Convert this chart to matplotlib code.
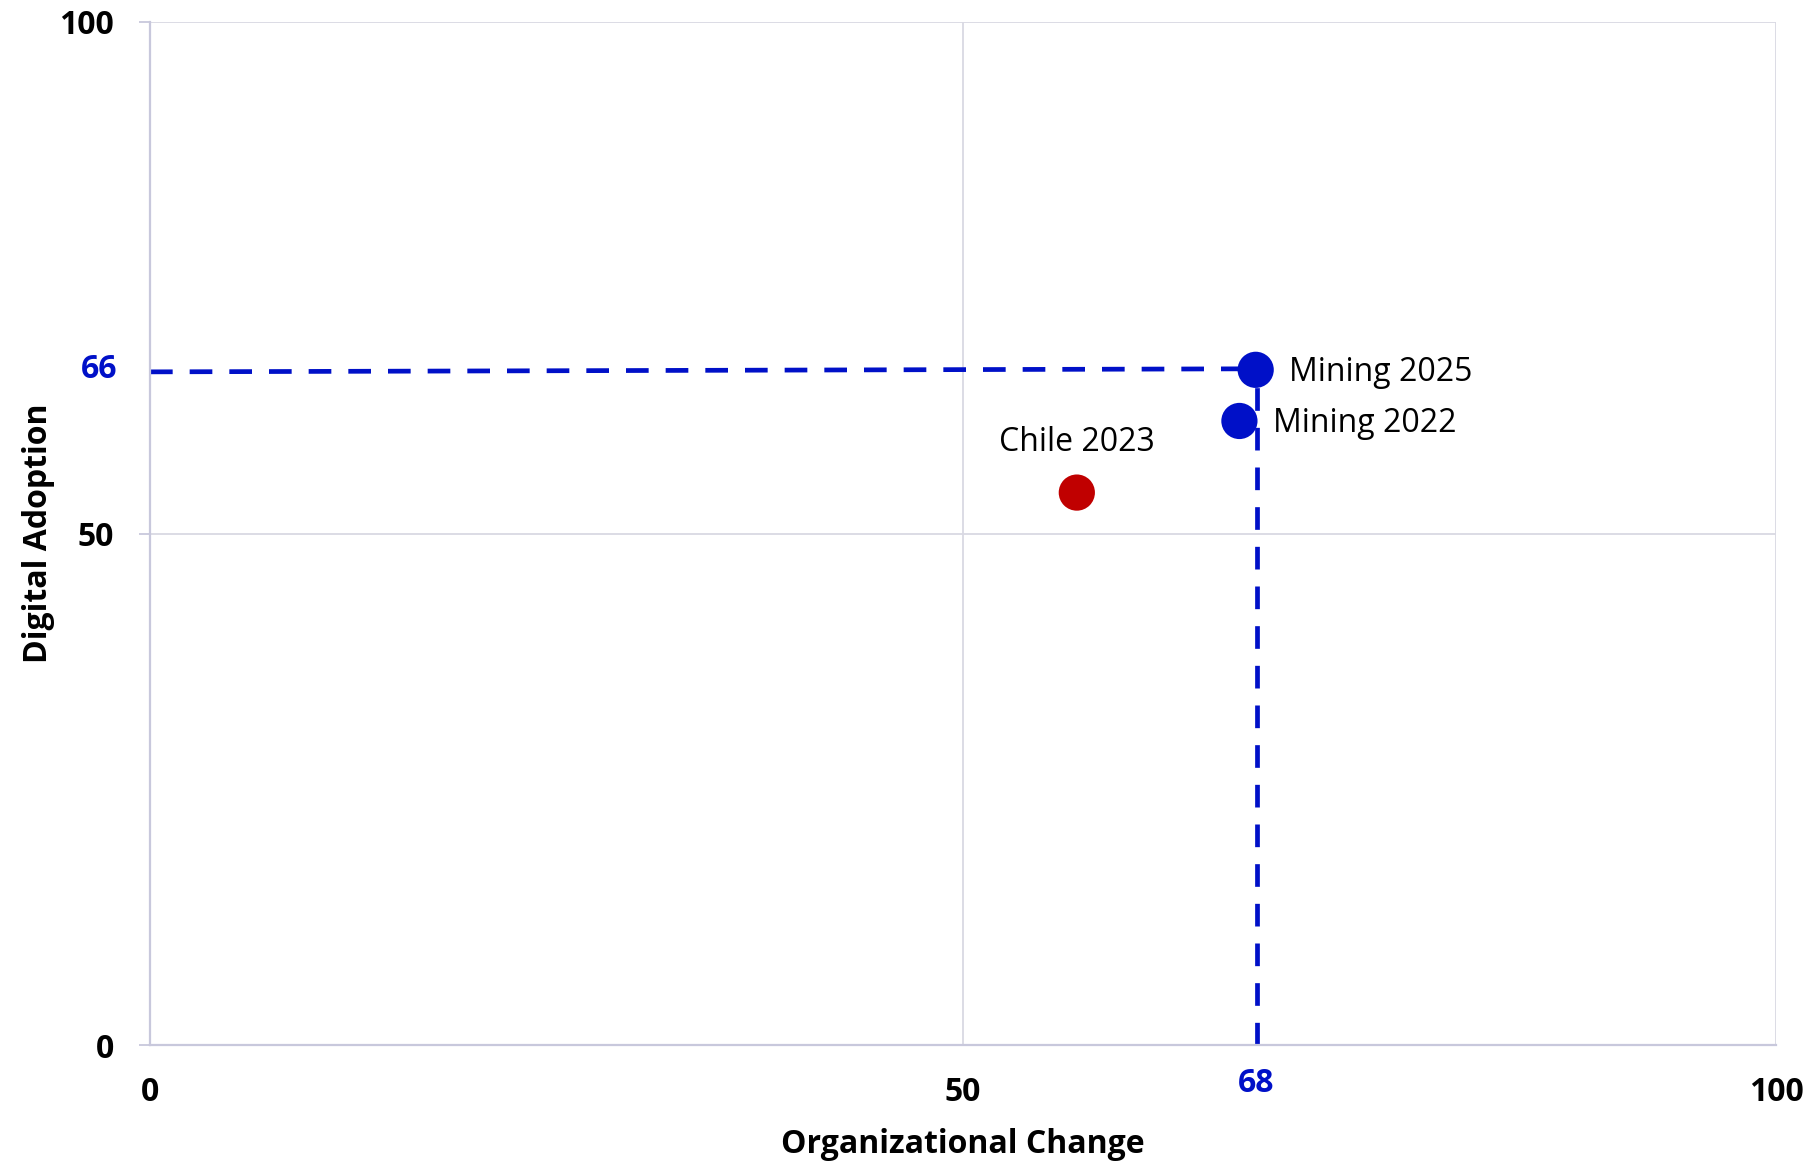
import matplotlib.pyplot as plt
import matplotlib.transforms as mtransforms

# data
labels = ['Chile 2023', 'Mining 2022', 'Mining 2025']
org_change = [57, 67, 68]
digital_adoption = [54, 61, 66]
colors = ['#C00000', '#0010C8', '#0010C8']
ref_x = 68
ref_y = 66
ticks = [0, 50, 100]

blue = '#0010C8'
grid_c = '#D9D9E3'
spine_c = '#C8C8DC'

plt.rcParams['font.family'] = ['Open Sans', 'DejaVu Sans']

fig = plt.figure(figsize=(18.2, 11.64), dpi=100)
ax = fig.add_axes([150 / 1820, 1 - 1045 / 1164, 1626 / 1820, 1023 / 1164])

ax.set_xlim(0, 100)
ax.set_ylim(0, 100)
ax.set_xticks(ticks)
ax.set_yticks(ticks)
ax.grid(True, color=grid_c, linewidth=1.3)
ax.set_axisbelow(True)
for s in ['top', 'right']:
    ax.spines[s].set_visible(False)
for s in ['left', 'bottom']:
    ax.spines[s].set_color(spine_c)
    ax.spines[s].set_linewidth(1.6)
ax.tick_params(axis='y', length=8, width=1.3, color=spine_c, pad=18, labelsize=23)
ax.tick_params(axis='x', length=0, pad=22, labelsize=23)
for lab in ax.get_xticklabels() + ax.get_yticklabels():
    lab.set_fontweight('bold')

# reference dashed lines
ax.plot([0, ref_x], [ref_y - 0.2, ref_y + 0.1], color=blue, linewidth=3.4,
        dashes=(4.8, 3.6), zorder=2, clip_on=False)
ax.plot([ref_x + 0.1, ref_x + 0.1], [0, ref_y], color=blue, linewidth=3.4,
        dashes=(4.8, 3.6), zorder=2, clip_on=False)

ax.scatter(org_change, digital_adoption, s=680, c=colors, zorder=3, linewidths=0)

# point labels
ax.annotate(labels[0], (org_change[0], digital_adoption[0]), xytext=(0, 24),
            textcoords='offset points', ha='center', va='bottom', fontsize=23)
for i in [1, 2]:
    ax.annotate(labels[i], (org_change[i], digital_adoption[i]), xytext=(24, -2),
                textcoords='offset points', ha='left', va='center', fontsize=23)

# blue reference tick labels
tx = mtransforms.blended_transform_factory(ax.transData, ax.transAxes)
ax.text(ref_x, -0.038, str(ref_x), transform=tx, ha='center', va='center',
        color=blue, fontsize=23, fontweight='bold')
ty = mtransforms.blended_transform_factory(ax.transAxes, ax.transData)
ax.text(-0.02, ref_y, str(ref_y), transform=ty, ha='right', va='center',
        color=blue, fontsize=23, fontweight='bold')

ax.set_xlabel('Organizational Change', fontsize=23, fontweight='bold', labelpad=14)
ax.set_ylabel('Digital Adoption', fontsize=23, fontweight='bold', labelpad=3)

fig.savefig('out.png', dpi=100)
